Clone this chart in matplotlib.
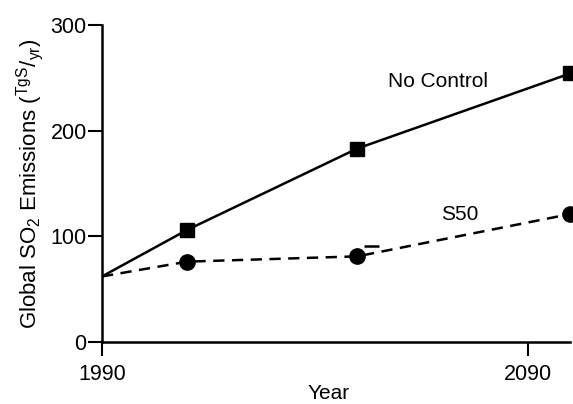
import matplotlib.pyplot as plt

plt.rcParams['font.family'] = ['Liberation Sans', 'DejaVu Sans']
plt.rcParams['mathtext.fontset'] = 'custom'
plt.rcParams['mathtext.rm'] = 'Liberation Sans'
plt.rcParams['mathtext.it'] = 'Liberation Sans:italic'

years_nc = [1990, 2010, 2050, 2100]
no_control = [62, 106, 183, 254]
years_s50 = [1990, 2010, 2050, 2100]
s50 = [62, 76, 81, 121]
# short stray bar drawn above the 2050 S50 point in the original
bar_years = [2051.5, 2055]
bar_value = 91

fig = plt.figure(figsize=(5.73, 4.04), dpi=100)
ax = fig.add_axes([0.178, 0.1535, 0.817, 0.785])

ax.plot(years_nc, no_control, color='black', lw=1.8)
ax.plot(years_nc[1:], no_control[1:], 's', color='black', ms=10, clip_on=False)
ax.plot(years_s50, s50, color='black', lw=1.8, linestyle=(0, (4.5, 3)))
ax.plot(years_s50[1:], s50[1:], 'o', color='black', ms=11, clip_on=False)
ax.hlines(bar_value, bar_years[0], bar_years[1], color='black', lw=1.8)

ax.text(2069, 246, 'No Control', fontsize=15, ha='center', va='center')
ax.text(2074, 121, 'S50', fontsize=15, ha='center', va='center')

ax.set_xlim(1990, 2100)
ax.set_ylim(0, 300)
ax.set_xticks([1990, 2090])
ax.set_yticks([0, 100, 200, 300])
ax.tick_params(direction='out', length=10, width=1.5, labelsize=15.5, pad=1)
ax.tick_params(axis='x', pad=6)
for side in ['top', 'right']:
    ax.spines[side].set_visible(False)
for side in ['left', 'bottom']:
    ax.spines[side].set_linewidth(1.8)

ax.set_xlabel('Year', fontsize=15, labelpad=-1)
ax.xaxis.label.set_x(0.483)
ax.set_ylabel(r'Global SO$_2$ Emissions ($^{\mathrm{TgS}}/_{\mathrm{yr}}$)', fontsize=16, labelpad=3)

fig.savefig('out.png', dpi=100)
